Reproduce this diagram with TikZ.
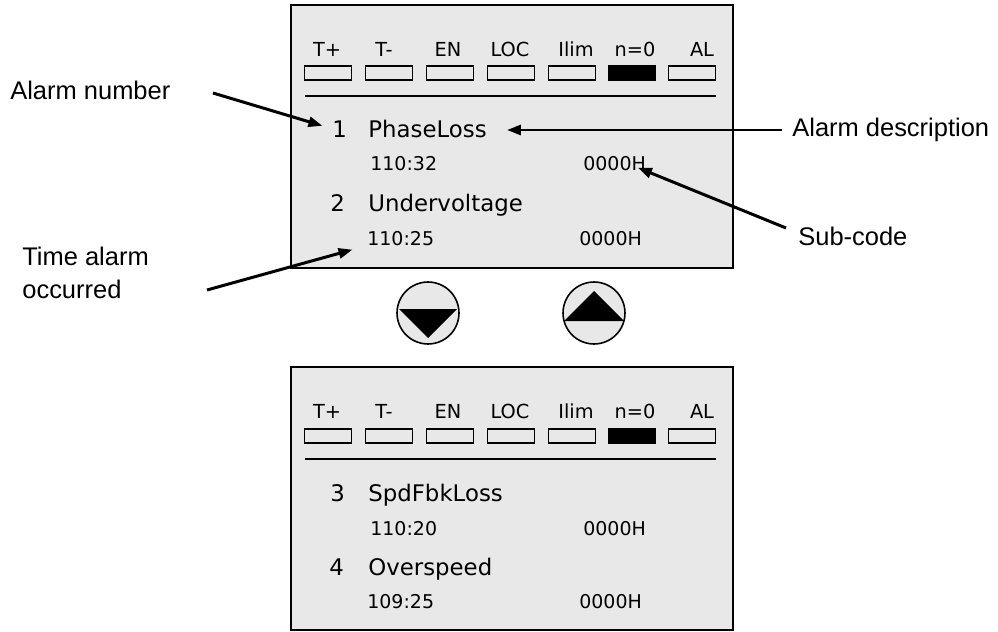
\documentclass[tikz,border=0pt]{standalone}
\usepackage{fontspec}
\setmainfont{Liberation Sans}
\newfontfamily\lcdfont{DejaVu Sans}
\usepackage{xcolor}
\definecolor{panelgray}{HTML}{E8E8E8}
\usetikzlibrary{arrows.meta,positioning,calc}

\begin{document}
\begin{tikzpicture}[x=0.02cm, y=-0.02cm,
  panel/.style={draw, line width=1.3pt, fill=panelgray, minimum width=8.84cm, minimum height=5.26cm, inner sep=0pt},
  lamp/.style={draw, line width=0.9pt, minimum width=0.94cm, minimum height=0.28cm, inner sep=0pt},
  lamplabel/.style={font=\lcdfont\fontsize{11}{13}\selectfont, inner sep=0pt, anchor=base},
  alarm/.style={font=\lcdfont\fontsize{13}{15}\selectfont, inner sep=0pt, anchor=base west},
  stamp/.style={font=\lcdfont\fontsize{10.8}{13}\selectfont, inner sep=0pt, anchor=base west},
  note/.style={font=\fontsize{14.5}{18.7}\selectfont, inner sep=0pt, anchor=base west, align=left},
  button/.style={draw, line width=0.9pt, fill=panelgray, circle, minimum size=1.24cm, inner sep=0pt},
  arrow/.style={-{Triangle[length=2.8mm, width=2mm]}, line width=1.7pt}
]
\useasboundingbox (0,0) rectangle (998,632);

% upper display
\node[panel] (disp1) at (512,136.5) {};
\foreach \lbl/\lx/\bx/\c [count=\i] in {T+/327/328/none, T-/384/389/none, EN/448/450/none, LOC/510/511/none, Ilim/576/572/none, n=0/635/632/black, AL/702/692/none} {
  \node[lamplabel] (lblA\i) at (\lx,56) {\lbl};
  \node[lamp, fill=\c] (lampA\i) at (\bx,73) {};
}
\draw[line width=0.9pt] (305,96) -- (716,96);
\node[alarm] (num1) at (332,137) {1};
\node[alarm] (name1) at (368,137) {PhaseLoss};
\node[stamp] (time1) at (370,170.5) {110:32};
\node[stamp] (code1) at (583,170.5) {0000H};
\node[alarm] (num2) at (330,211) {2};
\node[alarm] (name2) at (368,211) {Undervoltage};
\node[stamp] (time2) at (367,245) {110:25};
\node[stamp] (code2) at (579,245) {0000H};

% scroll keys
\node[button] (down) at (428,313) {};
\node[button] (up) at (594,313) {};
\fill ($(down)+(-29,-4)$) -- ($(down)+(29,-4)$) -- ($(down)+(0,25)$) -- cycle;
\fill ($(up)+(-30,8)$) -- ($(up)+(30,8)$) -- ($(up)+(0,-22)$) -- cycle;

% lower display
\node[panel] (disp2) at (512,498.5) {};
\foreach \lbl/\lx/\bx/\c [count=\i] in {T+/327/328/none, T-/384/389/none, EN/448/450/none, LOC/510/511/none, Ilim/576/572/none, n=0/635/632/black, AL/702/692/none} {
  \node[lamplabel] (lblB\i) at (\lx,418) {\lbl};
  \node[lamp, fill=\c] (lampB\i) at (\bx,436) {};
}
\draw[line width=0.9pt] (305,459) -- (716,459);
\node[alarm] (num3) at (330,501) {3};
\node[alarm] (name3) at (368,501) {SpdFbkLoss};
\node[stamp] (time3) at (370,535) {110:20};
\node[stamp] (code3) at (583,535) {0000H};
\node[alarm] (num4) at (329,575) {4};
\node[alarm] (name4) at (368,575) {Overspeed};
\node[stamp] (time4) at (367,608) {109:25};
\node[stamp] (code4) at (579,608) {0000H};

% callouts
\node[note] (numnote) at (10,99) {Alarm number};
\node[note] (timenote) at (22,298) {Time alarm\\occurred};
\node[note] (descnote) at (792,136.5) {Alarm description};
\node[note] (subnote) at (798,245) {Sub-code};
\coordinate (numtail) at (213,93);
\coordinate (timetail) at (207,290);
\coordinate (desctail) at (782,130);
\coordinate (subtail) at (786,228);
\draw[arrow, shorten >=0.2cm] (numtail) -- (num1.west);
\draw[arrow, shorten >=0.3cm] (timetail) -- (time2.south west);
\draw[arrow, shorten >=0.4cm] (desctail) -- (desctail -| name1.east);
\draw[arrow, shorten >=-0.18cm] (subtail) -- (code1.south east);
\end{tikzpicture}
\end{document}
